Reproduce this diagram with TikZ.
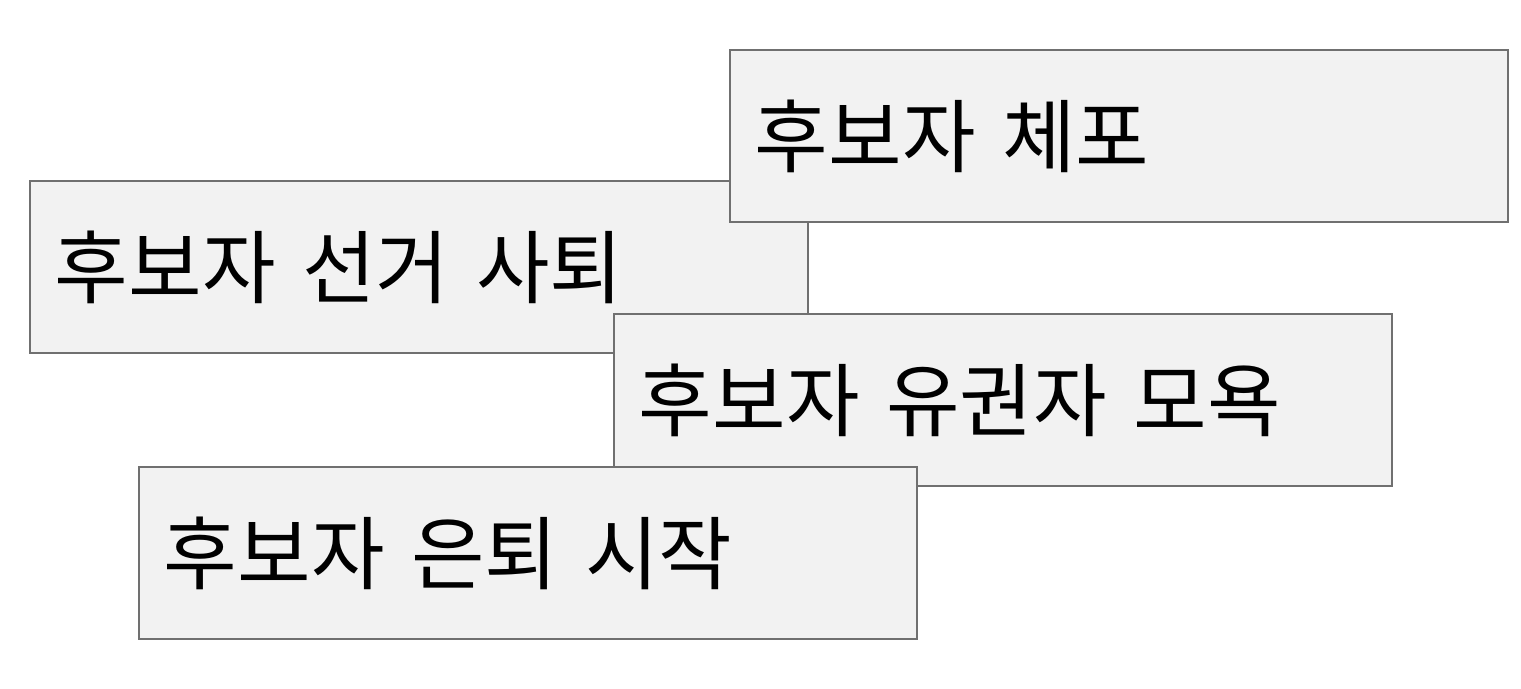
\documentclass[tikz,border=0pt]{standalone}
\usepackage{fontspec}
\setmainfont{Noto Sans CJK KR}
\usetikzlibrary{shapes}

\definecolor{boxfill}{HTML}{F2F2F2}
\definecolor{boxline}{HTML}{707070}
\tikzset{
  box/.style={shape=rectangle,draw=boxline,fill=boxfill,line width=1.1pt,anchor=north west,
    minimum width=15.56cm,minimum height=3.44cm,inner xsep=0.5cm,inner ysep=0pt,
    text width=14.56cm,align=left,font=\fontsize{45.5}{54}\selectfont}
}

\begin{document}
\begin{tikzpicture}
\useasboundingbox (0,0) rectangle (30.42,13.76);
\node[box] (1) at (0.58,10.16) {후보자 선거 사퇴};
\node[box] (0) at (14.58,12.78) {후보자 체포};
\node[box] (2) at (12.26,7.5) {후보자 유권자 모욕};
\node[box] (3) at (2.76,4.44) {후보자 은퇴 시작};
\end{tikzpicture}
\end{document}
